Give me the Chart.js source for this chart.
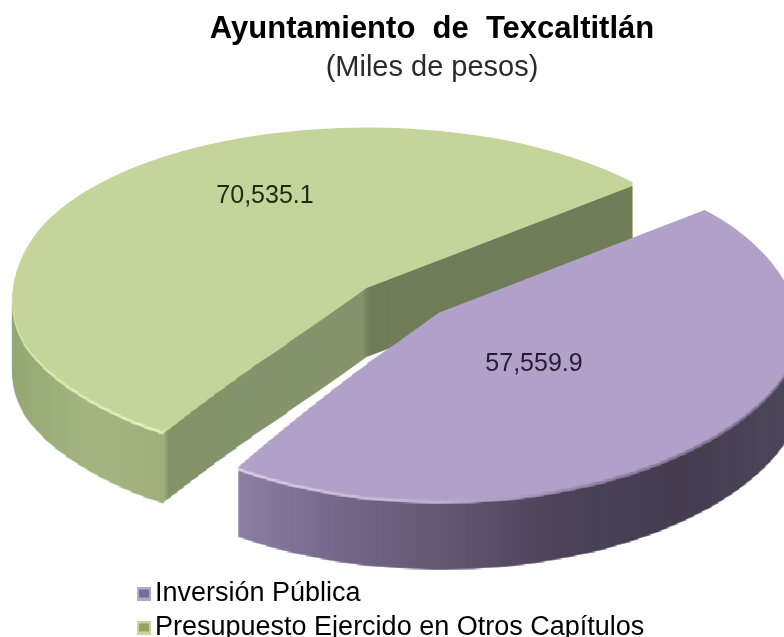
<!DOCTYPE html>
<html>
<head>
<meta charset="utf-8">
<title>Ayuntamiento de Texcaltitlán</title>
<script src="https://cdn.jsdelivr.net/npm/chart.js@4"></script>
<style>
    html, body { margin: 0; padding: 0; background: #fff; }
    canvas { display: block; }
</style>
</head>
<body>
<canvas id="myChart" width="784" height="637"></canvas>
<script>
const categories = ['Inversión Pública', 'Presupuesto Ejercido en Otros Capítulos'];
const values = [57559.9, 70535.1];
const chartTitle = 'Ayuntamiento  de  Texcaltitlán';
const chartSubtitle = '(Miles de pesos)';

const topColors = ['#b1a0c7', '#c3d59b'];
const legendFill = ['#7b6a9b', '#8fa562'];
const legendEdge = ['#b5a8c8', '#c6d4a2'];

// explode distance, side shading and rim shading per slice
const sliceLook = [
    {
        explode: 94, depth: 69, textX: 534, textY: 364, textColor: '#241c35',
        side: [[236, '#8d80a3'], [330, '#77698c'], [430, '#655a75'], [560, '#4b4358'], [680, '#443d4f'], [784, '#4d4659']],
        rim: [[236, '#d6cbe4'], [430, '#c2b4d6'], [600, '#8f82a5'], [784, '#7d7192']]
    },
    {
        explode: 0, depth: 72, textX: 265, textY: 196, textColor: '#1f2a12',
        side: [[14, '#95a873'], [90, '#a4b583'], [164, '#9fb07c'], [168, '#84946b'], [362, '#84946b'], [370, '#6f7d59'], [640, '#6f7d59']],
        rim: [[14, '#dbe8ae'], [160, '#e4f0ba'], [168, '#c3d59b'], [640, '#c3d59b']]
    }
];

// top face is flattened, then the front rows are stretched for the perspective
const squash = 0.45;
const apexX = 367;
const apexY = 285;
const warpAxis = 420;
const warpRow = y => y <= 340 ? y : y + 0.0018 * (y - 340) * (y - 340);
const warpScale = y => {
    if (y <= 240) return 1;
    if (y <= 320) return 1 + 0.000004375 * (y - 240) * (y - 240);
    return 1.028 + 0.0007 * (y - 320);
};

function newLayer(w, h) {
    const c = document.createElement('canvas');
    c.width = w;
    c.height = h;
    return c;
}

function tinted(source, stops) {
    const c = newLayer(source.width, source.height);
    const g = c.getContext('2d');
    const grad = g.createLinearGradient(0, 0, source.width, 0);
    stops.forEach(s => grad.addColorStop(s[0] / source.width, s[1]));
    g.drawImage(source, 0, 0);
    g.globalCompositeOperation = 'source-in';
    g.fillStyle = grad;
    g.fillRect(0, 0, c.width, c.height);
    return c;
}

// small bevelled square, sits right of the image centre so the text comes close to it
function legendMarker(i) {
    const c = newLayer(19, 14);
    const g = c.getContext('2d');
    g.fillStyle = legendEdge[i];
    g.fillRect(5, 0, 14, 14);
    g.fillStyle = legendFill[i];
    g.fillRect(7, 3, 10, 8);
    return c;
}

const pie3d = {
    id: 'pie3d',
    afterLayout(chart) {
        chart.legend.bottom += 96;
    },
    beforeDatasetsDraw(chart) {
        const ctx = chart.ctx;
        const w = chart.width;
        const h = chart.height;
        const arcs = chart.getDatasetMeta(0).data;

        // green first, the purple slice sits over its wall
        for (let i = arcs.length - 1; i >= 0; i--) {
            const arc = arcs[i];
            const look = sliceLook[i];
            const mid = (arc.startAngle + arc.endAngle) / 2;

            const flat = newLayer(w, h);
            const f = flat.getContext('2d');
            f.translate(apexX + Math.cos(mid) * look.explode, apexY + Math.sin(mid) * look.explode * squash);
            f.scale(1, squash);
            f.translate(-arc.x, -arc.y);
            arc.draw(f);

            const face = newLayer(w, h);
            const p = face.getContext('2d');
            for (let y = 0; y < h; y++) {
                const k = warpScale(y);
                const y0 = Math.floor(warpRow(y));
                const y1 = Math.ceil(warpRow(y + 1));
                p.drawImage(flat, 0, y, w, 1, warpAxis - warpAxis * k, y0, w * k, y1 - y0);
            }

            const side = tinted(face, look.side);
            const rim = tinted(face, look.rim);
            for (let d = look.depth; d > 3; d--) {
                ctx.drawImage(side, 0, d);
            }
            for (let d = 3; d > 0; d--) {
                ctx.drawImage(rim, 0, d);
            }
            ctx.drawImage(face, 0, 0);
        }

        ctx.save();
        ctx.font = '25px "Liberation Sans"';
        ctx.textAlign = 'center';
        ctx.textBaseline = 'middle';
        values.forEach((v, i) => {
            ctx.fillStyle = sliceLook[i].textColor;
            ctx.fillText(v.toLocaleString('en-US', { minimumFractionDigits: 1 }), sliceLook[i].textX, sliceLook[i].textY);
        });
        ctx.restore();
        return false;
    }
};

const ctx = document.getElementById('myChart').getContext('2d');
const myChart = new Chart(ctx, {
    type: 'pie',
    data: {
        labels: categories,
        datasets: [{
            data: values,
            backgroundColor: topColors,
            borderWidth: 0,
            radius: 350
        }]
    },
    options: {
        responsive: false,
        animation: false,
        rotation: 49.5,
        layout: { padding: { top: 11, left: 134.5, right: 54.5, bottom: 0 } },
        plugins: {
            tooltip: { enabled: false },
            title: {
                display: true,
                text: chartTitle,
                color: '#000',
                font: { family: '"Liberation Sans"', size: 31, weight: 'bold' },
                padding: { top: 0, bottom: 2 }
            },
            subtitle: {
                display: true,
                text: chartSubtitle,
                color: '#2b2b2b',
                font: { family: '"Liberation Sans"', size: 29, weight: 'normal' },
                padding: { top: 0, bottom: 0 }
            },
            legend: {
                position: 'chartArea',
                align: 'end',
                labels: {
                    color: '#2b2b2b',
                    font: { family: '"Liberation Sans"', size: 27 },
                    usePointStyle: true,
                    pointStyleWidth: 0.01,
                    padding: 7,
                    generateLabels: () => categories.map((name, i) => ({
                        text: name,
                        pointStyle: legendMarker(i),
                        index: i
                    }))
                }
            }
        }
    },
    plugins: [pie3d]
});
</script>
</body>
</html>
